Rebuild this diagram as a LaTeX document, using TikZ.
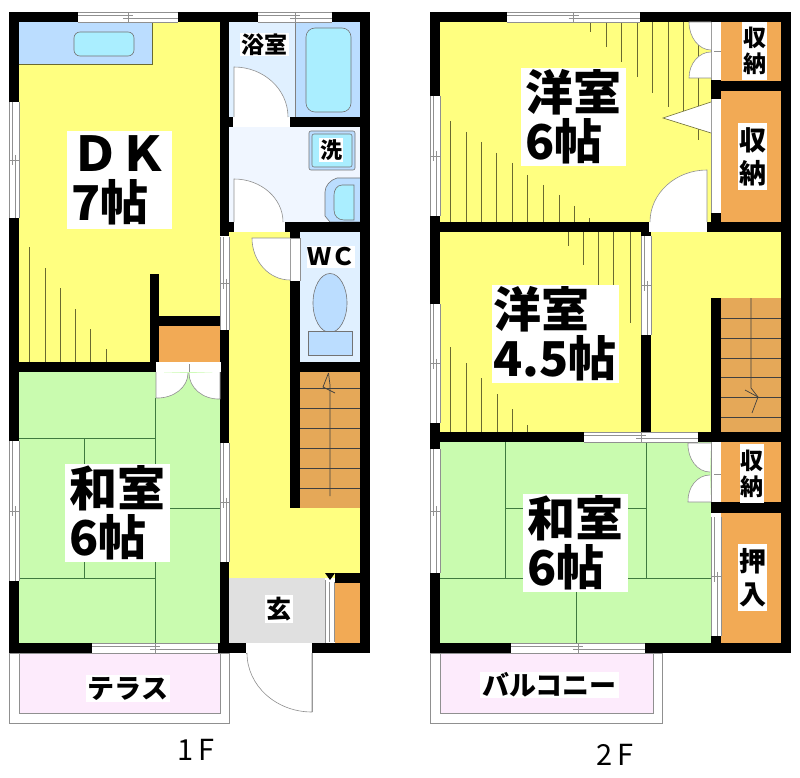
\documentclass[tikz,border=0pt]{standalone}
\usepackage{fontspec}
\usetikzlibrary{calc}
\newfontfamily\jpf{Noto Sans CJK JP}
\definecolor{cyel}{HTML}{FFFF80}
\definecolor{cgrn}{HTML}{C9FBAF}
\definecolor{corg}{HTML}{F2AA55}
\definecolor{cstr}{HTML}{E5A858}
\definecolor{cblu}{HTML}{BBDDFF}
\definecolor{ctub}{HTML}{AAEEFF}
\definecolor{cbth}{HTML}{E0F0FF}
\definecolor{cwsh}{HTML}{F0F6FF}
\definecolor{cgry}{HTML}{E0E0E0}
\definecolor{cpnk}{HTML}{FDEBFC}
\definecolor{cln}{HTML}{6A6A30}
\definecolor{ctat}{HTML}{3F7A3F}
\definecolor{cgl}{HTML}{909090}
\tikzset{
  wall/.style={fill=black},
  tatami/.style={draw=ctat,line width=0.7pt},
  hatch/.style={draw=cln,line width=0.7pt},
  tread/.style={draw=black!75,line width=0.7pt},
  fitline/.style={draw=black!55,line width=0.6pt},
  glass/.style={draw=cgl,line width=0.6pt},
  lbl/.style={fill=white,inner sep=0pt,text=black,font=\jpf\bfseries},
  big/.style={lbl,align=left,font=\jpf\bfseries\fontsize{48}{49}\selectfont},
  small/.style={lbl,align=center,font=\jpf\bfseries\fontsize{23}{26}\selectfont},
  mid/.style={lbl,align=center,font=\jpf\bfseries\fontsize{27}{33}\selectfont},
  kana/.style={lbl,font=\jpf\bfseries\fontsize{27}{27}\selectfont},
  floor/.style={inner sep=0pt,text=black,font=\jpf\fontsize{29}{29}\selectfont}
}
\newcommand{\winh}[4]{% x1 x2 y1 y2
  \pgfmathsetmacro{\wm}{(#1+#2)/2}\pgfmathsetmacro{\wc}{(#3+#4)/2}
  \fill[white] (#1,#3) rectangle (#2,#4);
  \draw[glass] (#1,#3) -- (#2,#3) (#1,#4) -- (#2,#4);
  \draw[glass] (#1,\wc-1.5) -- (\wm+5,\wc-1.5) (\wm-5,\wc+1.5) -- (#2,\wc+1.5) (\wm,#3+1) -- (\wm,#4);
}
\newcommand{\winv}[4]{% x1 x2 y1 y2
  \pgfmathsetmacro{\wm}{(#3+#4)/2}\pgfmathsetmacro{\wc}{(#1+#2)/2}
  \fill[white] (#1,#3) rectangle (#2,#4);
  \draw[glass] (#1,#3) -- (#1,#4) (#2,#3) -- (#2,#4);
  \draw[glass] (\wc-1.5,#3) -- (\wc-1.5,\wm+5) (\wc+1.5,\wm-5) -- (\wc+1.5,#4) (#1+1,\wm) -- (#2,\wm);
}
\newcommand{\doorleaf}[3]{% hinge, leaf end, arc end
  \fill[white] #1 -- #2 .. controls ($#2+0.5523*#3-0.5523*#1$) and ($#3+0.5523*#2-0.5523*#1$) .. #3 -- cycle;
  \draw[glass] #1 -- #2 .. controls ($#2+0.5523*#3-0.5523*#1$) and ($#3+0.5523*#2-0.5523*#1$) .. #3;
}
\begin{document}
\begin{tikzpicture}[x=1pt,y=-1pt]
\useasboundingbox (0,0) rectangle (800,778);
\fill[white] (0,0) rectangle (800,778);
%% ---------- 1F rooms
\fill[cyel] (19,22) rectangle (220,362);
\fill[cblu] (19,22) rectangle (152,64);
\draw[cln,line width=0.5pt] (19,64) -- (152,64) -- (152,22);
\filldraw[fill=ctub,fitline,rounded corners=6pt] (74,32) rectangle (134,56);
\fill[cbth] (229,22) rectangle (360,117);
\fill[cblu] (295,22) rectangle (360,117);
\draw[black!50,line width=0.5pt] (295,22) -- (295,117);
\filldraw[fill=ctub,fitline,rounded corners=9pt] (306,28) rectangle (351,112);
\fill[cwsh] (229,127) rectangle (360,222);
\filldraw[fill=cblu,fitline,rounded corners=2pt] (309,131) rectangle (355,170);
\filldraw[fill=ctub,fitline,rounded corners=2pt] (312,134) rectangle (352,167);
\filldraw[fill=cblu,fitline] (360,178) -- (337,178) .. controls (330,180) and (325,186) .. (325,192) -- (325,216) -- (330,222) -- (360,222);
\filldraw[fill=ctub,fitline] (354,185) -- (342,185) .. controls (337,185) and (334,190) .. (334,195) -- (334,210) .. controls (334,216) and (338,220) .. (344,220) -- (354,220) -- cycle;
\fill[cyel] (229,232) rectangle (290,578);
\fill[cyel] (290,508) rectangle (360,578);
\fill[cbth] (300,232) rectangle (360,362);
\filldraw[fill=cblu,fitline] (330,303) ellipse [x radius=17,y radius=29.5];
\filldraw[fill=cblu,fitline] (308,331) rectangle (352,355);
\fill[corg] (159,326) rectangle (220,362);
\fill[cgrn] (19,372) rectangle (220,643);
\foreach \a/\b/\c/\d in {155/398/155/643, 19/438/155/438, 84.5/438/84.5/578, 19/578/155/578, 155/508/220/508}
  \draw[tatami] (\a,\b) -- (\c,\d);
\fill[cstr] (300,372) rectangle (360,508);
\foreach \t in {388,408,428,448,468,488} \draw[tread] (300,\t) -- (360,\t);
\draw[tread] (330,496) -- (330,385) -- (328.5,373);
\draw[tread] (328.5,373) -- (323,387) -- (335,393);
\fill[cgry] (229,578) rectangle (325,643);
\fill[corg] (335,583) rectangle (360,643);
%% terrace
\filldraw[fill=white,draw=cgl,line width=0.6pt] (9,653) rectangle (229.5,723);
\filldraw[fill=cpnk,draw=cgl,line width=0.6pt] (19,653) rectangle (220,713);
%% hatching DK
\foreach \x/\y in {29.5/247,45/268,60/288,75.5/309,90.5/329,106/349}
  \draw[hatch] (\x,\y) -- (\x,362);
%% walls 1F
\foreach \a/\b/\c/\d in {9/12/78/22,178/12/258/22,332/12/370/22,
  9/12/19/102,9/218/19/441,9/581/19/653,
  9/643/92/653,218/643/246/653,312/643/370/653,
  360/12/370/653,
  220/12/229/236,220/330/229/443,220/562/229/653,
  220/117/233/127,290/117/370/127,
  220/222/234/232,285/222/370/232,
  290/232/300/238,290/281/300/508,300/362/370/372,
  150/274/159/372,159/316/220/326,9/362/156/372,
  335/573/370/583}
  \fill[wall] (\a,\b) rectangle (\c,\d);
\fill[wall] (325,573) -- (335,573) -- (330,580) -- cycle;
%% openings 1F
\winh{78}{178}{12}{22}
\winh{258}{332}{12}{22}
\winv{9}{19}{102}{218}
\winv{220}{229}{237}{330}
\winv{9}{19}{441}{581}
\winv{220}{229}{443}{562}
\winh{92}{218}{643}{653}
\fill[white] (325,582) rectangle (335,643);
\draw[glass,line width=0.9pt] (325.5,580) -- (325.5,643) (329,582) -- (329,642) (334.5,582) -- (334.5,642);
\fill[white] (233,117) rectangle (290,127);
\fill[white] (234,222) rectangle (285,232);
\fill[white] (290,238) rectangle (300,281);
\draw[glass] (290,238) -- (300,238) (290,281) -- (290,238) (300,238) -- (300,281);
\fill[white] (156,362) rectangle (221,372);
\draw[glass] (189,364) -- (189,372);
\fill[white] (246,643) rectangle (312,653);
\draw[glass] (246,653) -- (312,653) -- (312,712);
\doorleaf{(234,117)}{(234,67)}{(288,117)}
\doorleaf{(234,222)}{(234,179)}{(283,222)}
\doorleaf{(290,238)}{(252,238)}{(290,280)}
\doorleaf{(156,372)}{(156,398)}{(188,373)}
\doorleaf{(220,372)}{(220,399)}{(189,373)}
\doorleaf{(312,653)}{(312,712)}{(247,653)}
%% labels 1F
\node[big,minimum width=105,minimum height=98] (dk) at (119.5,180) {ＤＫ\\7帖};
\node[big,minimum width=105,minimum height=98] (wa1) at (117.5,513) {和室\\6帖};
\node[small,minimum width=49,minimum height=23] (bath) at (264.5,44.5) {浴室};
\node[small,minimum width=24,minimum height=24,font=\jpf\bfseries\fontsize{22}{22}\selectfont] (wash) at (331,150) {洗};
\node[small,minimum width=48,minimum height=22,font=\jpf\bfseries\fontsize{24}{24}\selectfont] (wc) at (331,257) {ＷＣ};
\node[small,minimum width=28,minimum height=28,font=\jpf\bfseries\fontsize{25}{25}\selectfont] (gen) at (279,609) {玄};
\node[kana,minimum width=84,minimum height=27] (ter) at (128,688.5) {テラス};
\node[floor] (f1) at (196,750) {1\,F};
%% ---------- 2F rooms
\fill[cyel] (440,22) rectangle (711,222);
\fill[cyel] (440,232) rectangle (641,432);
\fill[cyel] (651,232) rectangle (781,432);
\fill[cstr] (721,298) rectangle (781,432);
\foreach \t in {318,338,358,377,397,417} \draw[tread] (721,\t) -- (781,\t);
\draw[tread] (751,298) -- (751,388) -- (758,397) -- (752,413);
\draw[tread] (745,390) -- (758,397);
\fill[cgrn] (440,442) rectangle (711,643);
\foreach \a/\b/\c/\d in {505.5/442/505.5/578, 505.5/508/646/508, 646/442/646/578, 440/578/711/578, 576/578/576/643}
  \draw[tatami] (\a,\b) -- (\c,\d);
\fill[corg] (721,22) rectangle (781,81);
\fill[corg] (721,91) rectangle (781,222);
\fill[corg] (721,442) rectangle (781,502);
\fill[corg] (721,513) rectangle (781,643);
%% balcony
\filldraw[fill=white,draw=cgl,line width=0.6pt] (430,653) rectangle (662,723);
\filldraw[fill=cpnk,draw=cgl,line width=0.6pt] (440,653) rectangle (653,713);
%% hatching 2F
\foreach \x/\y in {590.5/32,606/47,621/62,637.5/77,652.5/93,668/107,683.5/123,698/140}
  \draw[hatch] (\x,22) -- (\x,\y);
\foreach \x/\y in {450/121,466/132,481/142,496.5/153,512/163,527/175,543/185,559/195,574/206,589/218}
  \draw[hatch] (\x,\y) -- (\x,222);
\foreach \x/\y in {568/246,583/265,598/285,613/305,630/323}
  \draw[hatch] (\x,232) -- (\x,\y);
\foreach \x/\y in {450/347,466/363,481/378,497/394,512/409,527/425}
  \draw[hatch] (\x,\y) -- (\x,432);
%% walls 2F
\foreach \a/\b/\c/\d in {430/12/507/22,640/12/791/22,
  430/12/440/96,430/216/440/304,430/423/440/449,430/573/440/653,
  430/643/511/653,645/643/791/653,
  781/12/791/653,
  711/80/721/99,711/213/721/232,711/298/721/442,711/636/721/653,
  711/81/791/91,430/222/649/232,707/222/791/232,
  430/432/584/442,698/432/791/442,711/502/791/513,
  641/232/651/236,641/335/651/432}
  \fill[wall] (\a,\b) rectangle (\c,\d);
%% openings 2F
\winh{507}{640}{12}{22}
\winv{430}{440}{96}{216}
\winv{430}{440}{304}{423}
\winv{641}{651}{236}{335}
\winh{584}{698}{432}{442}
\winv{430}{440}{449}{573}
\winh{511}{645}{643}{653}
\winv{711}{721}{517}{636}
\fill[white] (649,222) rectangle (707,232);
\fill[white] (711,22) rectangle (721,80);
\draw[glass,line width=1pt] (711,22) -- (711,80);
\draw[glass] (714,51) -- (721,51);
\fill[white] (711,99) rectangle (721,213);
\draw[glass,line width=1pt] (711,99) -- (711,213);
\fill[white] (711,442) rectangle (721,502);
\draw[glass,line width=1pt] (711,442) -- (711,502);
\draw[glass] (714,474) -- (721,474);
\doorleaf{(707,222)}{(707,170)}{(650,222)}
\doorleaf{(711,22)}{(689,22)}{(711,50)}
\doorleaf{(711,78)}{(689,78)}{(711,52)}
\doorleaf{(711,443)}{(688,443)}{(710,472)}
\doorleaf{(711,502)}{(688,502)}{(710,475)}
\filldraw[fill=white,draw=cln,line width=0.6pt] (711,102) -- (663,118) -- (711,133);
%% labels 2F
\node[big,minimum width=105,minimum height=98] (yo6) at (573.5,117) {洋室\\6帖};
\node[big,minimum width=127,minimum height=98] (yo45) at (555,334) {洋室\\4.5帖};
\node[big,minimum width=105,minimum height=98] (wa2) at (575.5,543) {和室\\6帖};
\node[small,minimum width=25,minimum height=58] (sn1) at (754.5,51) {収\\納};
\node[mid,minimum width=29,minimum height=67] (sn2) at (752.5,156.5) {収\\納};
\node[small,minimum width=24,minimum height=59] (sn3) at (752,473.5) {収\\納};
\node[mid,minimum width=29,minimum height=67] (osi) at (752.5,577.5) {押\\入};
\node[kana,minimum width=139,minimum height=26] (bal) at (549.5,685) {バルコニー};
\node[floor] (f2) at (615,755) {2\,F};
\end{tikzpicture}
\end{document}
